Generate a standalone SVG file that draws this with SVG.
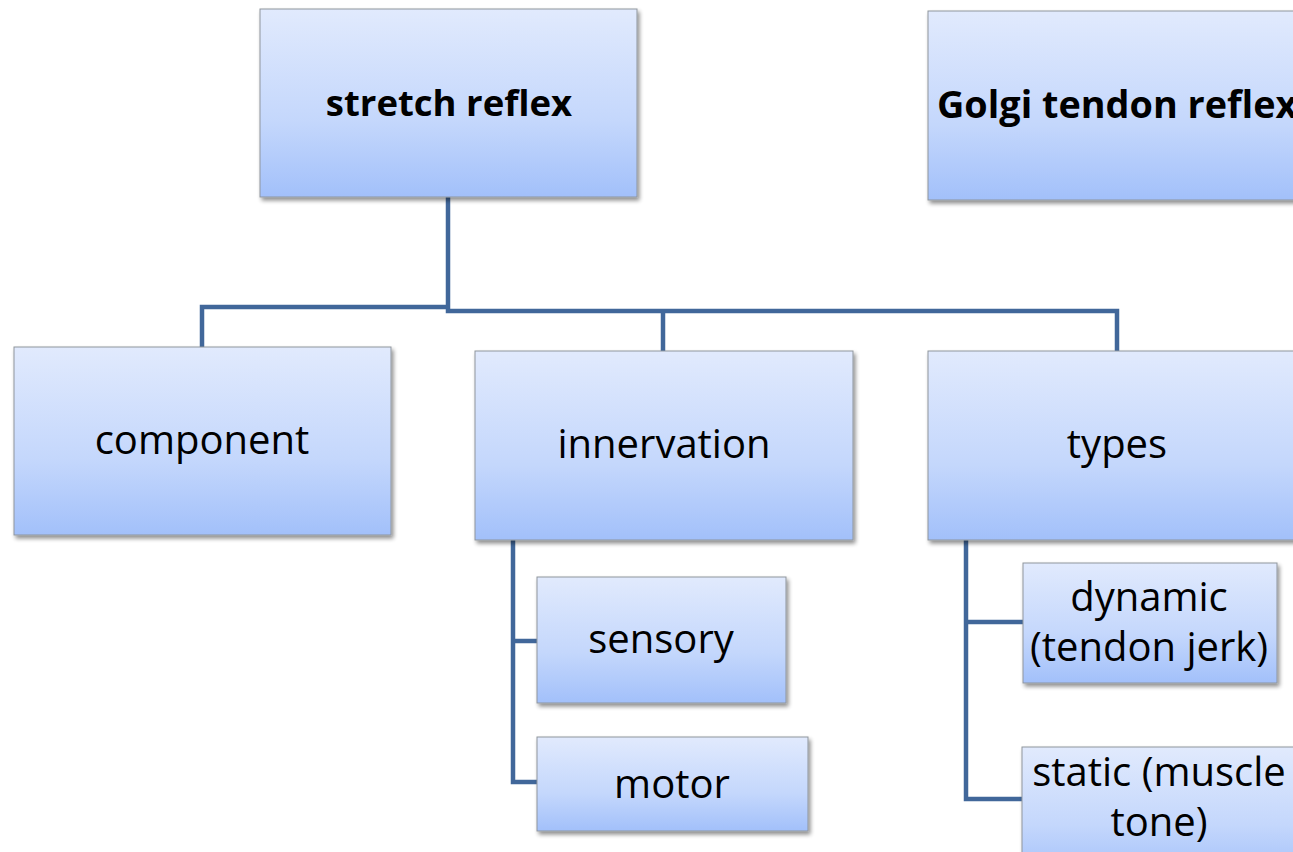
<svg xmlns="http://www.w3.org/2000/svg" width="1293" height="852" viewBox="0 0 1293 852">
<defs>
<linearGradient id="g" x1="0" y1="0" x2="0" y2="1">
<stop offset="0" stop-color="#e1eafd"/>
<stop offset="0.6" stop-color="#c4d7fc"/>
<stop offset="1" stop-color="#a2c0fa"/>
</linearGradient>
<filter id="sh" x="-5%" y="-5%" width="115%" height="120%">
<feGaussianBlur in="SourceAlpha" stdDeviation="2"/>
<feOffset dx="2" dy="3"/>
<feComponentTransfer><feFuncA type="linear" slope="0.45"/></feComponentTransfer>
<feMerge><feMergeNode/><feMergeNode in="SourceGraphic"/></feMerge>
</filter>
</defs>
<style>
.box{fill:url(#g);stroke:#8f959d;stroke-width:1;filter:url(#sh)}
.t{font-family:"Open Sans","Noto Sans",sans-serif;font-size:40px;fill:#000;text-anchor:middle}
.b{font-family:"Open Sans","Noto Sans",sans-serif;font-size:36.5px;font-weight:bold;fill:#000;text-anchor:middle}
.c{fill:none;stroke:#41679a;stroke-width:4.5;stroke-linejoin:miter}
</style>
<g id="connectors">
<path class="c" d="M202,347 V307 H450"/>
<path class="c" d="M448,197 V311 H1117 V351"/>
<path class="c" d="M663,311 V351"/>
<path class="c" d="M513,540 V782 H537"/>
<path class="c" d="M513,641 H537"/>
<path class="c" d="M966,540 V799 H1022"/>
<path class="c" d="M966,622 H1023"/>
</g>
<g id="stretch-reflex">
<rect class="box" x="260" y="9" width="377" height="188"/>
<text class="b" x="449" y="116">stretch reflex</text>
</g>
<g id="golgi-tendon-reflex">
<rect class="box" x="928" y="11" width="380" height="189"/>
<text class="b" x="937" y="118" style="text-anchor:start;font-size:37.8px">Golgi tendon reflex</text>
</g>
<g id="component">
<rect class="box" x="14" y="347" width="377" height="188"/>
<text class="t" x="202" y="454">component</text>
</g>
<g id="innervation">
<rect class="box" x="475" y="351" width="378" height="189"/>
<text class="t" x="664" y="458">innervation</text>
</g>
<g id="types">
<rect class="box" x="928" y="351" width="380" height="189"/>
<text class="t" x="1117" y="458">types</text>
</g>
<g id="sensory">
<rect class="box" x="537" y="577" width="249" height="126"/>
<text class="t" x="661" y="653">sensory</text>
</g>
<g id="motor">
<rect class="box" x="537" y="737" width="271" height="94"/>
<text class="t" x="672" y="798">motor</text>
</g>
<g id="dynamic">
<rect class="box" x="1023" y="563" width="254" height="120"/>
<text class="t" x="1149" y="611">dynamic</text>
<text class="t" x="1149" y="661">(tendon jerk)</text>
</g>
<g id="static">
<rect class="box" x="1022" y="747" width="290" height="130"/>
<text class="t" x="1159" y="786">static (muscle</text>
<text class="t" x="1159" y="836">tone)</text>
</g>
</svg>
